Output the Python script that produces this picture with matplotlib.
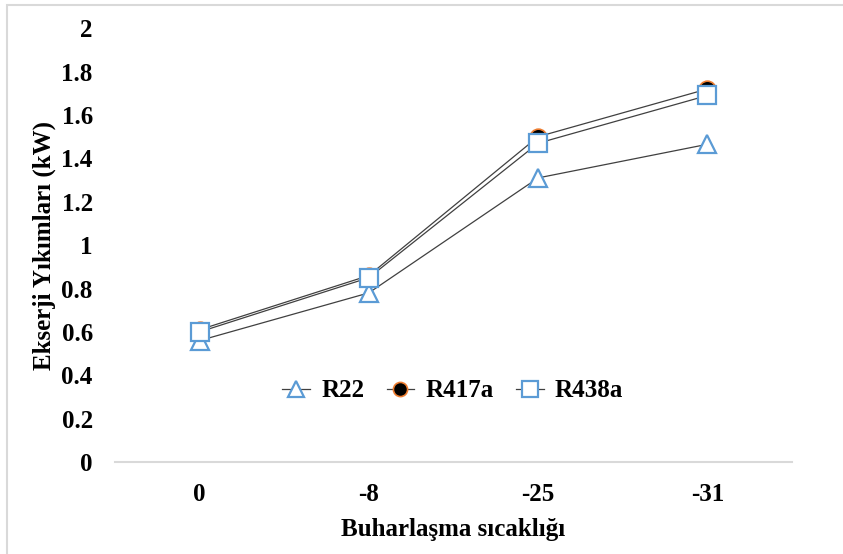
import matplotlib
matplotlib.use('Agg')
import matplotlib.pyplot as plt
from matplotlib.patches import Rectangle

# values
temps = ['0', '-8', '-25', '-31']
r22 = [0.56, 0.78, 1.31, 1.465]
r417a = [0.61, 0.86, 1.50, 1.72]
r438a = [0.60, 0.85, 1.47, 1.69]
y_ticks = [0, 0.2, 0.4, 0.6, 0.8, 1, 1.2, 1.4, 1.6, 1.8, 2]
y_tick_labels = ['0', '0.2', '0.4', '0.6', '0.8', '1', '1.2', '1.4', '1.6', '1.8', '2']

plt.rcParams['font.family'] = ['Liberation Serif', 'DejaVu Serif']
plt.rcParams['font.weight'] = 'bold'

fig = plt.figure(figsize=(8.43, 5.54), dpi=100)
ax = fig.add_axes([0.1364, 0.166, 0.8031, 0.783])

# light grey frame of the chart area (only left/top visible)
fig.patches.append(Rectangle((7 / 843, -0.1), 1.2, 1.1 - 5 / 554, transform=fig.transFigure,
                             fill=False, edgecolor='#D9D9D9', linewidth=1.5))

x = list(range(len(temps)))
blue = '#5B9BD5'
ax.plot(x, r22, color='#404040', lw=0.9, marker='^', markersize=13,
        markerfacecolor='white', markeredgecolor=blue, markeredgewidth=1.6, label='R22')
ax.plot(x, r417a, color='#404040', lw=0.9, marker='o', markersize=12,
        markerfacecolor='black', markeredgecolor='#ED7D31', markeredgewidth=1.2, label='R417a')
ax.plot(x, r438a, color='#404040', lw=0.9, marker='s', markersize=13,
        markerfacecolor='white', markeredgecolor=blue, markeredgewidth=1.6, label='R438a')

ax.set_xlim(-0.5, 3.5)
ax.set_ylim(0, 2)
ax.set_xticks(x)
ax.set_xticklabels(temps)
ax.set_yticks(y_ticks)
ax.set_yticklabels(y_tick_labels)
ax.tick_params(axis='both', length=0, labelsize=18)
ax.tick_params(axis='x', pad=15)
ax.tick_params(axis='y', pad=16)

for s in ['left', 'right', 'top']:
    ax.spines[s].set_visible(False)
ax.spines['bottom'].set_color('#D9D9D9')
ax.spines['bottom'].set_linewidth(1.5)

ax.set_ylabel('Ekserji Yıkımları (kW)', fontsize=18, fontweight='bold', labelpad=4)
ax.set_xlabel('Buharlaşma sıcaklığı', fontsize=18, fontweight='bold', labelpad=9)

ax.legend(loc='center', bbox_to_anchor=(0.499, 0.164), ncol=3, frameon=False,
          fontsize=18, handlelength=1.1, columnspacing=0.9, handletextpad=0.45,
          markerscale=0.85)

fig.savefig('out.png', dpi=100, facecolor='white')
